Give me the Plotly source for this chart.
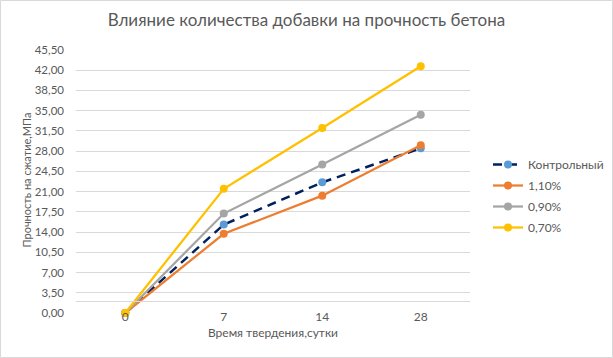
import plotly.graph_objects as go

days = ["0", "7", "14", "28"]
control = [0, 15.3, 22.6, 28.5]
s110 = [0, 13.7, 20.3, 29.0]
s090 = [0, 17.2, 25.7, 34.3]
s070 = [0, 21.5, 32.0, 42.7]
yticks = [i * 3.5 for i in range(14)]

FONT = "Lato"
TXT = "#595959"
GRID = "#D9D9D9"

fig = go.Figure()
series = [
    ("Контрольный", control, "#002060", "#5B9BD5", "9px,6px", 2.5),
    ("1,10%", s110, "#ED7D31", "#ED7D31", "solid", 2.25),
    ("0,90%", s090, "#A5A5A5", "#A5A5A5", "solid", 2.25),
    ("0,70%", s070, "#FFC000", "#FFC000", "solid", 2.25),
]
for name, vals, lc, mc, dash, lw in series:
    fig.add_trace(go.Scatter(x=days, y=vals, name=name, legendgroup=name,
                             mode="lines+markers",
                             line=dict(color=lc, width=lw, dash=dash),
                             marker=dict(color=mc, size=8), cliponaxis=False))

W, H = 613, 358
L, R, T, B = 76, 143, 50, 45
pw, ph = W - L - R, H - T - B

fig.update_layout(
    width=W, height=H,
    margin=dict(l=L, r=R, t=T, b=B, autoexpand=False),
    paper_bgcolor="white", plot_bgcolor="white",
    separators=", ",
    font=dict(family=FONT, color=TXT, size=12),
    title=dict(text="Влияние количества добавки на прочность бетона",
               x=0.5, xanchor="center", y=1 - 20 / H, yanchor="middle",
               font=dict(size=17, color=TXT, family=FONT)),
    xaxis=dict(type="category", range=[-0.5, 3.5], showgrid=False, zeroline=False,
               anchor="free", position=12.5 / ph,
               showline=True, linecolor=GRID, linewidth=1,
               ticks="", ticklabelstandoff=5, tickfont=dict(size=12, color=TXT), automargin=False,
               title=dict(text="Время твердения,сутки", font=dict(size=12, color=TXT), standoff=5)),
    yaxis=dict(range=[0, 45.5], tickvals=yticks, tickformat=".2f",
               showgrid=True, gridcolor=GRID, gridwidth=1, zeroline=False,
               showline=False, ticks="", ticklabelstandoff=11, automargin=False,
               tickfont=dict(size=11.5, color=TXT)),
    legend=dict(x=(488 - L) / pw, y=(H - B - 196) / ph, xanchor="left", yanchor="middle",
                font=dict(size=12, color=TXT), bgcolor="rgba(0,0,0,0)",
                itemwidth=30, tracegroupgap=2),
    showlegend=True,
    annotations=[dict(text="Прочность на сжатие,МПа", textangle=-90, showarrow=False,
                      xref="paper", yref="paper", x=(26 - L) / pw, y=(H - B - 180.5) / ph,
                      xanchor="center", yanchor="middle",
                      font=dict(size=11, color=TXT, family=FONT))],
)

# chart border
fig.add_shape(type="rect", xref="paper", yref="paper",
              x0=(-L + 0.5) / pw, x1=(W - L - 0.5) / pw,
              y0=(-B + 0.5) / ph, y1=(H - B - 0.5) / ph,
              line=dict(color=GRID, width=1))

fig.write_html("out.html", config={"displayModeBar": False},
               post_script="document.body.style.margin='0';document.body.style.padding='0';")
